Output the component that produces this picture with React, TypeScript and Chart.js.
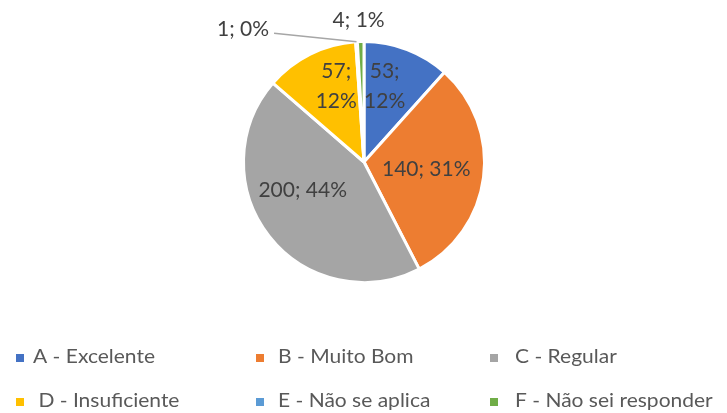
import React, { useEffect, useRef } from "react";
import { Chart, registerables } from "chart.js";

Chart.register(...registerables);

const categories = [
  "A - Excelente",
  "B - Muito Bom",
  "C - Regular",
  " D - Insuficiente",
  "E - Não se aplica",
  "F - Não sei responder",
];
const counts = [53, 140, 200, 57, 1, 4];
const percents = [12, 31, 44, 12, 0, 1];
const colors = ["#4472C4", "#ED7D31", "#A5A5A5", "#FFC000", "#5B9BD5", "#70AD47"];

// label placement relative to each slice: angle offset (deg) from the slice middle, radius fraction, and line breaking
const labelPlacement = [
  { dA: -5.7, r: 0.65, split: true },
  { dA: -0.8, r: 0.52, split: false },
  { dA: 13.4, r: 0.56, split: false },
  { dA: 6.4, r: 0.67, split: true },
  { dA: -38.8, r: 1.49, split: false, leader: true },
  { dA: -0.6, r: 1.175, split: false },
];

const FONT = "Lato, 'Open Sans', sans-serif";

const labelPlugin = {
  id: "sliceLabels",
  afterDatasetsDraw(chart: any) {
    const ctx = chart.ctx;
    const meta = chart.getDatasetMeta(0);
    ctx.save();
    ctx.font = `21px ${FONT}`;
    ctx.fillStyle = "#404040";
    ctx.textAlign = "center";
    ctx.textBaseline = "middle";
    meta.data.forEach((arc: any, i: number) => {
      const p = arc.getProps(["x", "y", "startAngle", "endAngle", "outerRadius"], true);
      const mid = (p.startAngle + p.endAngle) / 2;
      const pl = labelPlacement[i];
      const a = mid + (pl.dA * Math.PI) / 180;
      const lx = p.x + Math.cos(a) * p.outerRadius * pl.r;
      const ly = p.y + Math.sin(a) * p.outerRadius * pl.r;
      const v = counts[i];
      const pc = percents[i] + "%";
      if (pl.split) {
        ctx.fillText(v + ";", lx, ly - 15);
        ctx.fillText(pc, lx, ly + 15);
      } else {
        const t = `${v}; ${pc}`;
        ctx.fillText(t, lx, ly);
        if (pl.leader) {
          const w = ctx.measureText(t).width;
          const ax = p.x + Math.cos(mid) * p.outerRadius;
          const ay = p.y + Math.sin(mid) * p.outerRadius;
          ctx.strokeStyle = "#A6A6A6";
          ctx.lineWidth = 1.5;
          ctx.beginPath();
          ctx.moveTo(lx + w / 2 + 5, ly + 4);
          ctx.lineTo(ax, ay);
          ctx.stroke();
        }
      }
    });
    ctx.restore();
  },
};

const legendPlugin = {
  id: "gridLegend",
  afterDraw(chart: any) {
    const ctx = chart.ctx;
    const markerX = [16, 256, 490];
    const textX = [33, 278, 515];
    const rowY = [358, 402];
    ctx.save();
    ctx.font = `20px ${FONT}`;
    ctx.textBaseline = "middle";
    ctx.textAlign = "left";
    categories.forEach((c, i) => {
      const col = i % 3;
      const row = Math.floor(i / 3);
      const y = rowY[row];
      ctx.fillStyle = colors[i];
      ctx.fillRect(markerX[col], y - 4, 8, 8);
      ctx.fillStyle = "#595959";
      ctx.save();
      ctx.translate(textX[col], y - 1);
      ctx.scale(1.05, 1);
      ctx.fillText(c, 0, 0);
      ctx.restore();
    });
    ctx.restore();
  },
};

export default function App() {
  const ref = useRef<HTMLCanvasElement | null>(null);
  useEffect(() => {
    document.body.style.margin = "0";
    const chart = new Chart(ref.current!, {
      type: "pie",
      data: {
        labels: categories,
        datasets: [
          {
            data: counts,
            backgroundColor: colors,
            borderColor: "#FFFFFF",
            borderWidth: 3,
            hoverOffset: 0,
          },
        ],
      },
      options: {
        responsive: false,
        animation: false,
        events: [],
        layout: { padding: { top: 40, bottom: 129, left: 242, right: 241 } },
        plugins: {
          legend: { display: false },
          tooltip: { enabled: false },
        },
      },
      plugins: [labelPlugin, legendPlugin],
    });
    return () => chart.destroy();
  }, []);
  return (
    <div style={{ width: 727, height: 413, background: "#fff" }}>
      <canvas ref={ref} width={727} height={413} />
    </div>
  );
}
